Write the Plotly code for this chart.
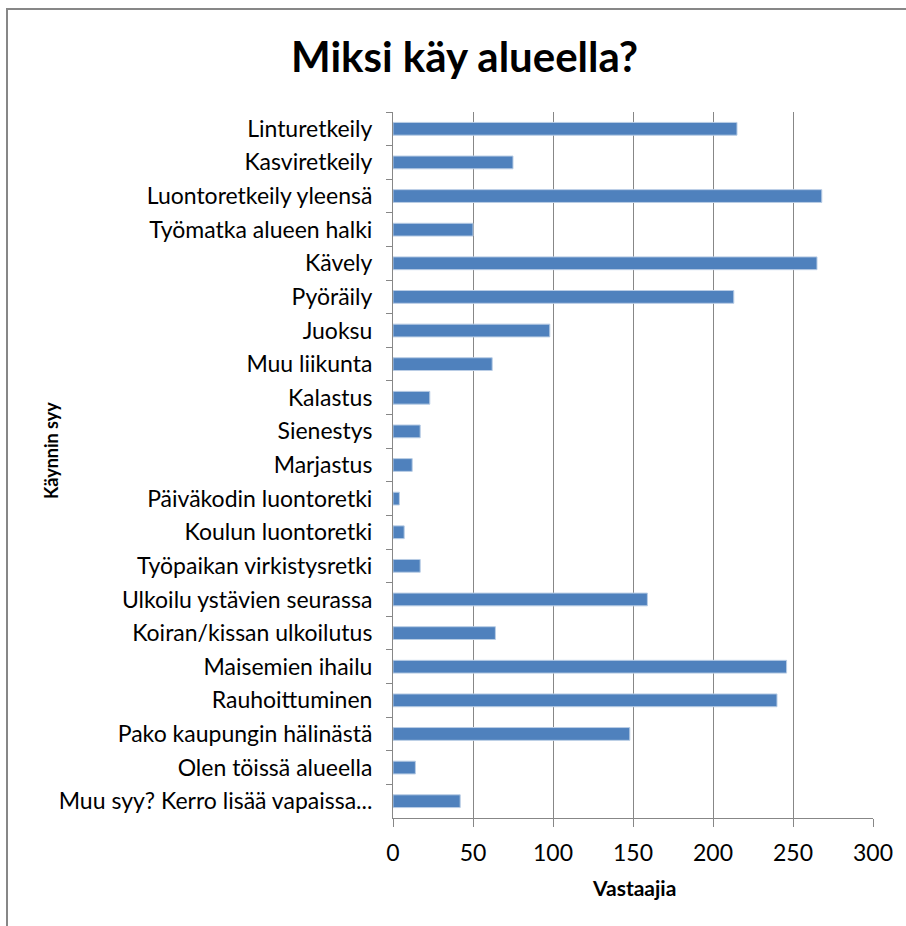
import plotly.graph_objects as go

categories = [
    "Linturetkeily",
    "Kasviretkeily",
    "Luontoretkeily yleensä",
    "Työmatka alueen halki",
    "Kävely",
    "Pyöräily",
    "Juoksu",
    "Muu liikunta",
    "Kalastus",
    "Sienestys",
    "Marjastus",
    "Päiväkodin luontoretki",
    "Koulun luontoretki",
    "Työpaikan virkistysretki",
    "Ulkoilu ystävien seurassa",
    "Koiran/kissan ulkoilutus",
    "Maisemien ihailu",
    "Rauhoittuminen",
    "Pako kaupungin hälinästä",
    "Olen töissä alueella",
    "Muu syy? Kerro lisää vapaissa...",
]
values = [215, 75, 268, 50, 265, 213, 98, 62, 23, 17, 12, 4, 7, 17, 159, 64, 246, 240, 148, 14, 42]
x_ticks = [0, 50, 100, 150, 200, 250, 300]

title_text = "Miksi käy alueella?"
x_title = "Vastaajia"
y_title = "Käynnin syy"

FONT = "Lato, 'Open Sans', sans-serif"

fig = go.Figure(
    go.Bar(
        x=values,
        y=categories,
        orientation="h",
        marker=dict(color="#4F81BD", line=dict(color="#B9CDE5", width=1)),
        hoverinfo="x+y",
    )
)

L, R, T, B = 393, 33, 112, 108
W, H = 906, 926
pw, ph = W - L - R, H - T - B


def px_x(px):
    return (px - L) / pw


def px_y(py):
    return (H - B - py) / ph


fig.update_layout(
    width=W,
    height=H,
    margin=dict(l=L, r=R, t=T, b=B, pad=0),
    paper_bgcolor="white",
    plot_bgcolor="white",
    bargap=0.62,
    showlegend=False,
    font=dict(family=FONT, color="#000000", size=18),
    xaxis=dict(
        range=[0, 300],
        tickvals=x_ticks,
        ticktext=[str(v) for v in x_ticks],
        showgrid=True,
        gridcolor="#878787",
        gridwidth=1,
        showline=True,
        linecolor="#878787",
        linewidth=1,
        ticks="outside",
        ticklen=8,
        tickcolor="#878787",
        ticklabelstandoff=6,
        tickfont=dict(family=FONT, size=23, color="#000000"),
        zeroline=False,
    ),
    yaxis=dict(
        categoryorder="array",
        categoryarray=categories,
        autorange="reversed",
        showgrid=False,
        showline=True,
        linecolor="#878787",
        linewidth=1,
        ticks="outside",
        ticklen=6,
        tickcolor="#878787",
        tickson="boundaries",
        ticklabelstandoff=15,
        tickfont=dict(family=FONT, size=23, color="#000000"),
    ),
    annotations=[
        dict(
            text="<b>" + title_text + "</b>",
            xref="paper", yref="paper",
            x=px_x(464), y=px_y(56),
            xanchor="center", yanchor="middle",
            showarrow=False,
            font=dict(family=FONT, size=42, color="#000000"),
        ),
        dict(
            text="<b>" + x_title + "</b>",
            xref="paper", yref="paper",
            x=px_x(634), y=px_y(887),
            xanchor="center", yanchor="middle",
            showarrow=False,
            font=dict(family=FONT, size=21, color="#000000"),
        ),
        dict(
            text="<b>" + y_title + "</b>",
            xref="paper", yref="paper",
            x=px_x(51), y=px_y(451),
            xanchor="center", yanchor="middle",
            textangle=-90,
            showarrow=False,
            font=dict(family=FONT, size=18, color="#000000"),
        ),
    ],
    shapes=[
        dict(
            type="rect",
            xref="paper",
            yref="paper",
            x0=px_x(7),
            x1=px_x(912),
            y0=px_y(932),
            y1=px_y(9),
            line=dict(color="#878787", width=2),
            fillcolor="rgba(0,0,0,0)",
            layer="below",
        )
    ],
)

fig.write_html(
    "out.html",
    config={"displayModeBar": False},
    post_script="document.body.style.margin='0px';",
)
